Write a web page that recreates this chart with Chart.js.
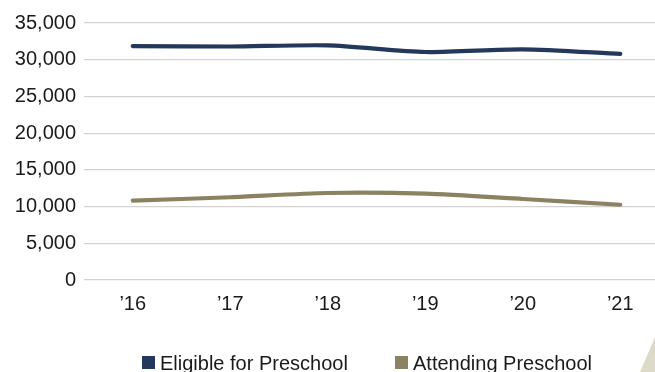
<!DOCTYPE html>
<html>
<head>
<meta charset="utf-8">
<script src="https://cdn.jsdelivr.net/npm/chart.js@4"></script>
<style>
  html, body { margin: 0; padding: 0; background: #fff; }
  #wrap { position: relative; width: 655px; height: 372px; overflow: hidden; font-family: "Liberation Sans", Arial, Helvetica, sans-serif; }
  #chartBox { position: absolute; left: 0; top: 0; width: 670px; height: 372px; }
  #legend { position: absolute; left: 0; top: 353px; width: 655px; height: 20px; }
  .item { position: absolute; top: 0; display: flex; align-items: flex-start; font-size: 20px; line-height: 20px; color: #1a1a1a; white-space: nowrap; }
  .swatch { width: 13px; height: 13px; margin-top: 3px; margin-right: 5px; }
  #corner { position: absolute; left: 0; top: 0; }
</style>
</head>
<body>
<div id="wrap">
  <div id="chartBox"><canvas id="c" width="670" height="372"></canvas></div>
  <div id="legend"></div>
  <svg id="corner" width="655" height="372"><polygon points="640,372 655,337 655,372" fill="#dedac9"/></svg>
</div>
<script>
// School years shown along the bottom
const years = ["\u201916", "\u201917", "\u201918", "\u201919", "\u201920", "\u201921"];

// Children eligible for preschool
const eligible = [31850, 31800, 31950, 31050, 31420, 30800];

// Children attending preschool
const attending = [10800, 11270, 11850, 11750, 11030, 10250];

// Value axis ticks
const yTicks = [0, 5000, 10000, 15000, 20000, 25000, 30000, 35000];

const seriesNames = ["Eligible for Preschool", "Attending Preschool"];
const seriesColors = ["#24385b", "#8b8262"];

const FONT = '"Liberation Sans", Arial, Helvetica, sans-serif';

const chart = new Chart(document.getElementById("c"), {
  type: "line",
  data: {
    labels: years,
    datasets: [
      { label: seriesNames[0], data: eligible, borderColor: seriesColors[0], backgroundColor: seriesColors[0] },
      { label: seriesNames[1], data: attending, borderColor: seriesColors[1], backgroundColor: seriesColors[1] }
    ]
  },
  options: {
    responsive: false,
    animation: false,
    devicePixelRatio: 1,
    layout: { padding: { top: 23, right: 1, bottom: 52, left: 0 } },
    elements: {
      line: { borderWidth: 4.2, tension: 0.25, borderCapStyle: "round", fill: false },
      point: { radius: 0, hoverRadius: 0 }
    },
    plugins: { legend: { display: false }, tooltip: { enabled: false } },
    scales: {
      x: {
        offset: true,
        grid: { display: false, drawTicks: false },
        border: { display: false },
        ticks: { color: "#1a1a1a", font: { family: FONT, size: 20 }, padding: 12, maxRotation: 0 },
        afterFit(scale) { scale.height = 40; }
      },
      y: {
        min: 0,
        max: 35000,
        afterBuildTicks(scale) { scale.ticks = yTicks.map(v => ({ value: v })); },
        grid: { color: "#d2d2d2", lineWidth: 1.2, drawTicks: false },
        border: { display: false },
        ticks: {
          color: "#1a1a1a",
          font: { family: FONT, size: 20 },
          padding: 8,
          callback: v => Number(v).toLocaleString("en-US")
        },
        afterFit(scale) { scale.width = 84; }
      }
    }
  }
});

// Legend under the plot
const legendLeft = [142, 395];
const legend = document.getElementById("legend");
chart.data.datasets.forEach((ds, i) => {
  const item = document.createElement("div");
  item.className = "item";
  item.style.left = legendLeft[i] + "px";
  const sw = document.createElement("span");
  sw.className = "swatch";
  sw.style.background = ds.borderColor;
  const tx = document.createElement("span");
  tx.textContent = ds.label;
  item.appendChild(sw);
  item.appendChild(tx);
  legend.appendChild(item);
});
</script>
</body>
</html>
